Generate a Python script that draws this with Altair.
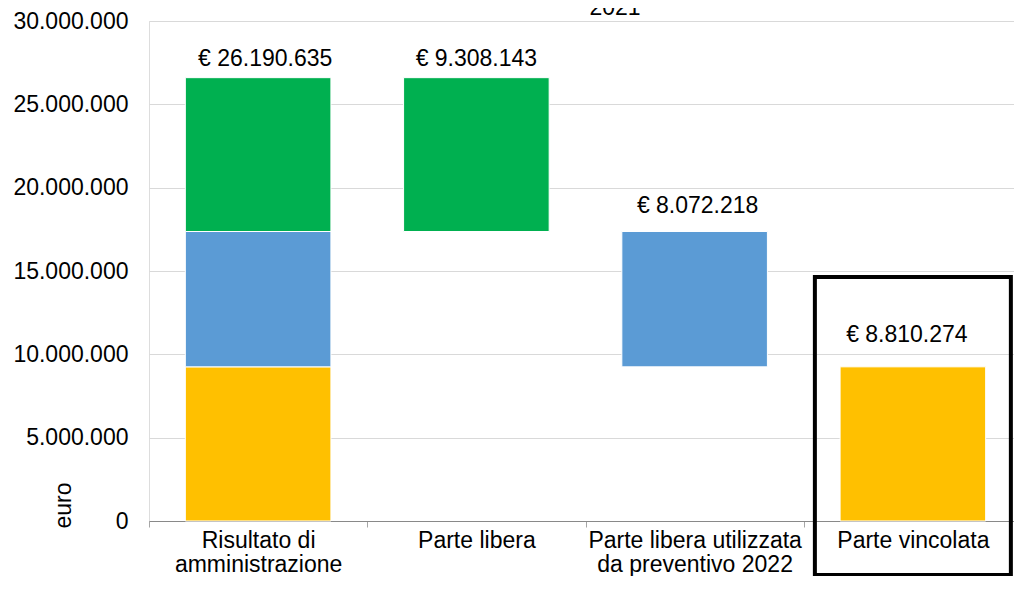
import json
import altair as alt
import pandas as pd

# ---------------- data ----------------
categories = [
    "Risultato di amministrazione",
    "Parte libera",
    "Parte libera utilizzata da preventivo 2022",
    "Parte vincolata",
]
label_lines = [
    ["Risultato di", "amministrazione"],
    ["Parte libera"],
    ["Parte libera utilizzata", "da preventivo 2022"],
    ["Parte vincolata"],
]

seg_category = [categories[0], categories[0], categories[0],
                categories[1], categories[2], categories[3]]
seg_part = ["vincolata", "libera utilizzata", "libera",
            "libera", "libera utilizzata", "vincolata"]
seg_start = [0, 9250000, 17370000, 17370000, 9250000, 0]
seg_end = [9250000, 17370000, 26600000, 26600000, 17370000, 9250000]

parts = ["libera", "libera utilizzata", "vincolata"]
part_colors = ["#00B050", "#5B9BD5", "#FFC000"]

value_labels = ["€ 26.190.635", "€ 9.308.143", "€ 8.072.218", "€ 8.810.274"]
label_top = [26600000, 26600000, 17370000, 9250000]

y_ticks = [0, 5000000, 10000000, 15000000, 20000000, 25000000, 30000000]
chart_title = "2021"
highlight = "Parte vincolata"

segments = pd.DataFrame({"categoria": seg_category, "parte": seg_part,
                         "inizio": seg_start, "fine": seg_end})
labels = pd.DataFrame({"categoria": categories, "etichetta": value_labels,
                       "cima": label_top})

# ---------------- chart ----------------
FONT = "Liberation Sans"
PLOT_H = 500
PLOT_W = 865
BAND_RANGE = [0, 873]

label_expr = ""
for c, lines in zip(categories, label_lines):
    label_expr += f"datum.label == {json.dumps(c)} ? {json.dumps(lines)} : "
label_expr += "datum.label"

x_scale = alt.Scale(domain=categories, range=BAND_RANGE, paddingInner=0, paddingOuter=0)

x_enc = alt.X(
    "categoria:N",
    sort=categories,
    scale=x_scale,
    title=None,
    axis=alt.Axis(
        labelAngle=0,
        labelExpr=label_expr,
        labelFontSize=23,
        labelFont=FONT,
        labelColor="black",
        labelLineHeight=24,
        labelPadding=2,
        labelBaseline="top",
        labelLimit=400,
        tickBand="extent",
        ticks=True,
        tickSize=6,
        tickColor="#a6a6a6",
        domainColor="#898989",
        grid=False,
    ),
)

bars = alt.Chart(segments).mark_bar(
    width=alt.RelativeBandSize(0.667), stroke="white", strokeWidth=1
).encode(
    x=x_enc,
    y=alt.Y(
        "inizio:Q",
        scale=alt.Scale(domain=[0, 30000000], nice=False),
        axis=alt.Axis(
            values=y_ticks,
            format=",d",
            labelFontSize=23,
            labelFont=FONT,
            labelColor="black",
            labelPadding=21,
            ticks=False,
            domain=False,
            gridColor="#d9d9d9",
            title="euro",
            titleFont=FONT,
            titleFontSize=23,
            titleFontWeight="normal",
            titleColor="black",
            titleAngle=270,
            titleAlign="left",
            titleBaseline="middle",
            titleX=-86,
            titleY=PLOT_H + 7,
        ),
    ),
    y2="fine:Q",
    color=alt.Color("parte:N", scale=alt.Scale(domain=parts, range=part_colors), legend=None),
)

label_offsets = {
    categories[0]: (7, -12),
    categories[1]: (0, -12),
    categories[2]: (3, -19),
    categories[3]: (-6, -25),
}
label_layers = []
for c in categories:
    dx, dy = label_offsets[c]
    label_layers.append(
        alt.Chart(labels).transform_filter(alt.datum.categoria == c).mark_text(
            font=FONT, fontSize=23, color="black", baseline="alphabetic",
            align="center", dx=dx, dy=dy,
        ).encode(
            x=alt.X("categoria:N", sort=categories, scale=x_scale),
            y=alt.Y("cima:Q"),
            text="etichetta:N",
        )
    )

box = alt.Chart(labels).transform_filter(alt.datum.categoria == highlight).mark_bar(
    width=alt.RelativeBandSize(0.898), fillOpacity=0, stroke="black", strokeWidth=4
).encode(
    x=alt.X("categoria:N", sort=categories, scale=x_scale),
    y=alt.value(256),
    y2=alt.value(554),
)

title = alt.Chart(pd.DataFrame({"t": [chart_title]})).mark_text(
    font=FONT, fontSize=23, color="black", baseline="alphabetic", align="center"
).encode(text="t:N", x=alt.value(466), y=alt.value(-6))

chart = alt.layer(bars, *label_layers, box, title).properties(
    width=PLOT_W,
    height=PLOT_H,
    autosize=alt.AutoSizeParams(type="none"),
    padding={"left": 141, "top": 13, "right": 0, "bottom": 55},
).configure_view(stroke=None).configure(
    font=FONT,
    locale={"number": {"decimal": ",", "thousands": ".", "grouping": [3],
                       "currency": ["€", ""]}},
)

chart.save("out.html", embed_options={"renderer": "svg", "actions": False})
